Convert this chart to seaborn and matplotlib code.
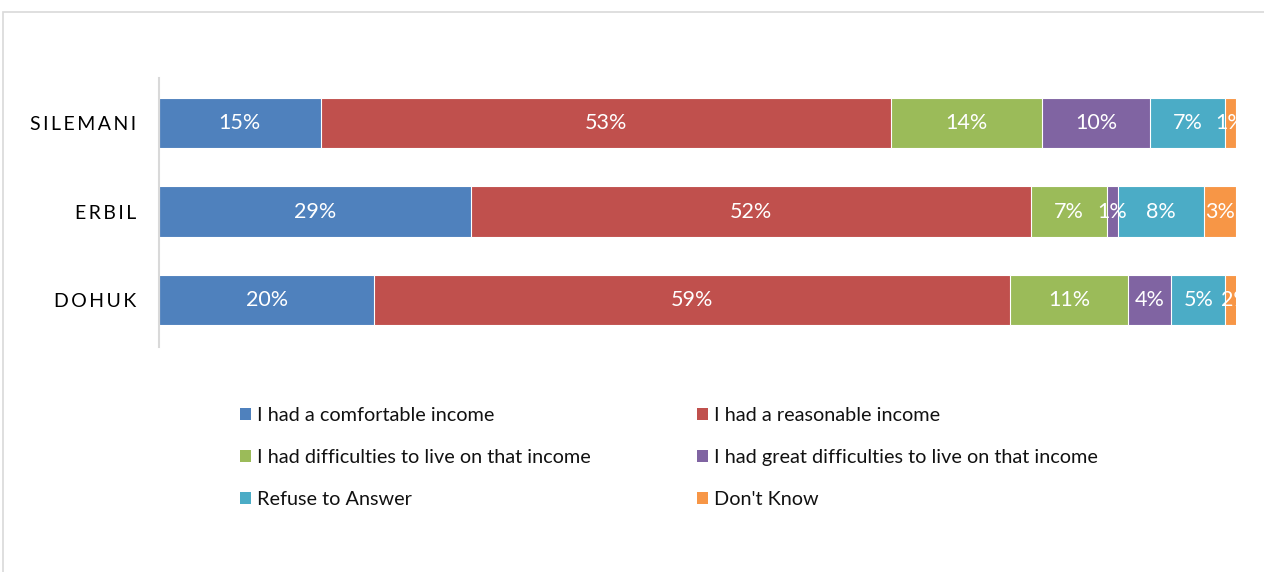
import matplotlib
matplotlib.use("Agg")
import matplotlib.pyplot as plt
from matplotlib.patches import Patch, Rectangle
import numpy as np
import pandas as pd
import seaborn as sns

regions = ["SILEMANI", "ERBIL", "DOHUK"]
responses = [
    "I had a comfortable income",
    "I had a reasonable income",
    "I had difficulties to live on that income",
    "I had great difficulties to live on that income",
    "Refuse to Answer",
    "Don't Know",
]
comfortable = [15, 29, 20]
reasonable = [53, 52, 59]
difficulties = [14, 7, 11]
great_difficulties = [10, 1, 4]
refuse = [7, 8, 5]
dont_know = [1, 3, 2]

colors = ["#4F81BD", "#C0504D", "#9BBB59", "#8064A2", "#4BACC6", "#F79646"]

sns.set_theme(style="white")
plt.rcParams["font.family"] = ["Lato", "DejaVu Sans"]
plt.rcParams["text.color"] = "#111111"

values = np.array([comfortable, reasonable, difficulties,
                   great_difficulties, refuse, dont_know], dtype=float)
cum = np.cumsum(values, axis=0)

fig = plt.figure(figsize=(12.64, 5.72), dpi=100)
ax = fig.add_axes([159 / 1264, 1 - 347 / 572, (1236 - 159) / 1264, (347 - 78) / 572])

# stacked bars: draw running totals from the outermost segment inwards
for i in reversed(range(len(responses))):
    df = pd.DataFrame({"region": regions, "total": cum[i]})
    sns.barplot(data=df, x="total", y="region", order=regions, orient="h",
                color=colors[i], saturation=1, width=0.57,
                edgecolor="white", linewidth=0.8, ax=ax)

for i in range(len(responses)):
    for j in range(len(regions)):
        v = values[i, j]
        ax.text(cum[i, j] - v / 2, j, f"{v:.0f}%", ha="center", va="center",
                color="white", fontsize=15.5, clip_on=False)

ax.set_xlim(0, 100)
ax.set_ylim(2.53, -0.51)
ax.set_xlabel("")
ax.set_ylabel("")
ax.set_xticks([])
ax.set_yticks(range(len(regions)))
ax.set_yticklabels(["\u2009".join(r) for r in regions], fontsize=14, color="#000000")
ax.tick_params(axis="y", length=0, pad=16.5)
for s in ["top", "right", "bottom"]:
    ax.spines[s].set_visible(False)
ax.spines["left"].set_color("#D9D9D9")
ax.spines["left"].set_linewidth(1.5)

# chart-area frame
fig.patches.append(Rectangle((3 / 1264, -0.1), 1.2, 1 - 12 / 572 + 0.1,
                             transform=fig.transFigure, fill=False,
                             edgecolor="#D9D9D9", linewidth=1.2))

handles = [Patch(facecolor=c, edgecolor="none") for c in colors]
legend_kw = dict(frameon=False, fontsize=14.3, handlelength=0.55, handleheight=0.55,
                 handletextpad=0.3, labelspacing=1.25, loc="upper left",
                 borderaxespad=0, borderpad=0, labelcolor="#111111")
leg1 = fig.legend([handles[0], handles[2], handles[4]],
                  [responses[0], responses[2], responses[4]],
                  bbox_to_anchor=(240 / 1264, 1 - 407 / 572), **legend_kw)
leg2 = fig.legend([handles[1], handles[3], handles[5]],
                  [responses[1], responses[3], responses[5]],
                  bbox_to_anchor=(697 / 1264, 1 - 407 / 572), **legend_kw)

fig.savefig("out.png", dpi=100)
